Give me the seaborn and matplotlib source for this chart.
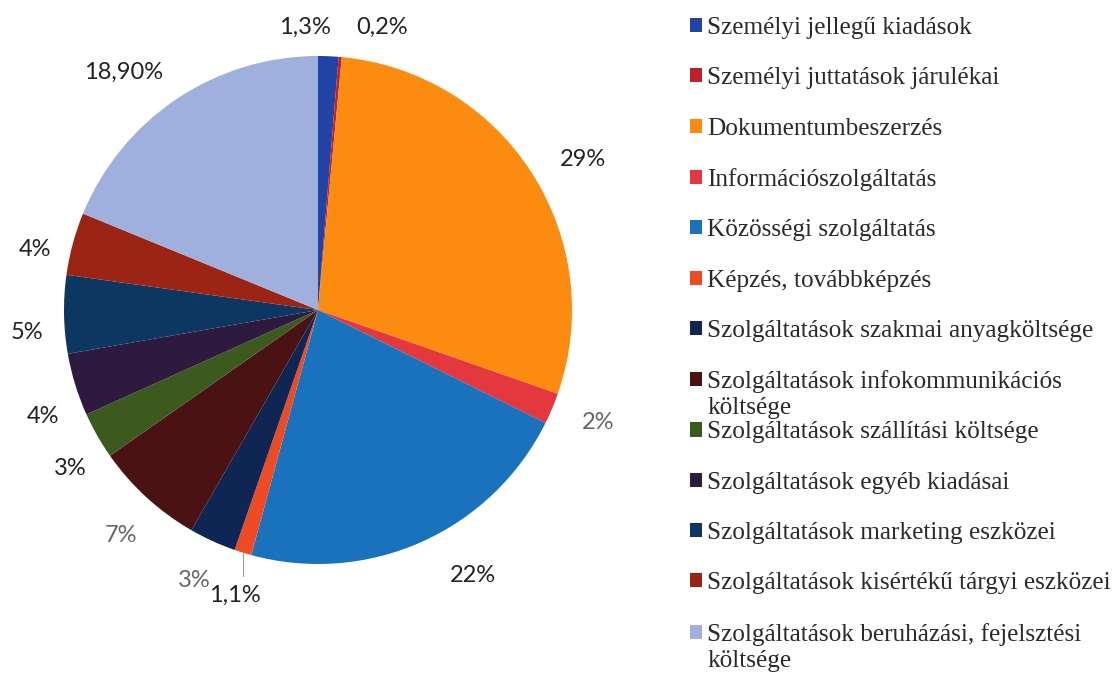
import matplotlib
matplotlib.use("Agg")
import numpy as np
import matplotlib.pyplot as plt
import seaborn as sns

# Kiadások megoszlása (%)
kategoriak = [
    "Személyi jellegű kiadások",
    "Személyi juttatások járulékai",
    "Dokumentumbeszerzés",
    "Információszolgáltatás",
    "Közösségi szolgáltatás",
    "Képzés, továbbképzés",
    "Szolgáltatások szakmai anyagköltsége",
    "Szolgáltatások infokommunikációs\nköltsége",
    "Szolgáltatások szállítási költsége",
    "Szolgáltatások egyéb kiadásai",
    "Szolgáltatások marketing eszközei",
    "Szolgáltatások kisértékű tárgyi eszközei",
    "Szolgáltatások beruházási, fejelsztési\nköltsége",
]
ertekek = [1.3, 0.2, 29, 2, 22, 1.1, 3, 7, 3, 4, 5, 4, 18.9]
cimkek = ["1,3%", "0,2%", "29%", "2%", "22%", "1,1%", "3%", "7%", "3%", "4%", "5%", "4%", "18,90%"]

szinek = ["#2243a6", "#c0202a", "#fb8c10", "#e3393e", "#1a72bd", "#ee4b24", "#0f2654",
          "#4a1212", "#3c5a1e", "#2e1a3e", "#0c3760", "#9b2414", "#9fb0de"]

# címkék finomhangolása: szögeltolás (fok) és távolság a középponttól
cimke_eltolas = [4.9, -7.7, -3, 1, 6, 1, 0, 1.3, 3, 4, 3.4, 3, 5.5]
cimke_tav = [1.115, 1.14, 1.2, 1.19, 1.21, 1.17, 1.17, 1.18, 1.16, 1.16, 1.15, 1.14, 1.21]
cimke_szin = ["#222222"] * 13
cimke_szin[3] = cimke_szin[6] = cimke_szin[7] = "#666666"

sns.set_theme(style="white")
plt.rcParams["font.family"] = ["Lato", "DejaVu Sans"]

fig = plt.figure(figsize=(11.17, 6.73), dpi=100)
ax = fig.add_axes([64 / 1117, 109 / 673, 508 / 1117, 508 / 673])

wedges, _ = ax.pie(ertekek, colors=szinek, startangle=90, counterclock=False,
                   wedgeprops=dict(linewidth=0))
ax.set_xlim(-1, 1)
ax.set_ylim(-1, 1)
ax.set_aspect("equal")

for i, w in enumerate(wedges):
    mid = np.deg2rad((w.theta1 + w.theta2) / 2 + cimke_eltolas[i])
    x, y = cimke_tav[i] * np.cos(mid), cimke_tav[i] * np.sin(mid)
    ax.text(x, y, cimkek[i], ha="center", va="center", fontsize=17,
            color=cimke_szin[i], clip_on=False)

# vezetővonal az 1,1%-os szelethez
w = wedges[5]
mid = np.deg2rad((w.theta1 + w.theta2) / 2)
x0, y0 = np.cos(mid), np.sin(mid)
ax.plot([x0, x0], [y0, y0 - 0.09], color="#999999", linewidth=0.8, clip_on=False)

# jelmagyarázat: csak az első sor kerül a legendbe, a második sor külön szöveg
elso_sor = [k.split("\n")[0] for k in kategoriak]
leg_betu = {"family": "Liberation Serif", "size": 18.2}
leg = fig.legend(wedges, elso_sor, loc="upper left",
                 bbox_to_anchor=(690 / 1117, 1 - 17 / 673), frameon=False,
                 prop=leg_betu, handlelength=0.48, handleheight=0.48,
                 handletextpad=0.2, labelspacing=1.12, borderpad=0, borderaxespad=0)
for t in leg.get_texts():
    t.set_color("#2a2a2a")

fig.canvas.draw()
for k, t in zip(kategoriak, leg.get_texts()):
    if "\n" in k:
        bb = t.get_window_extent()
        fig.text(bb.x0 / fig.bbox.width, (bb.y0 - 26) / fig.bbox.height,
                 k.split("\n")[1], fontdict=leg_betu, color="#2a2a2a",
                 ha="left", va="bottom")

fig.savefig("out.png", dpi=100)
